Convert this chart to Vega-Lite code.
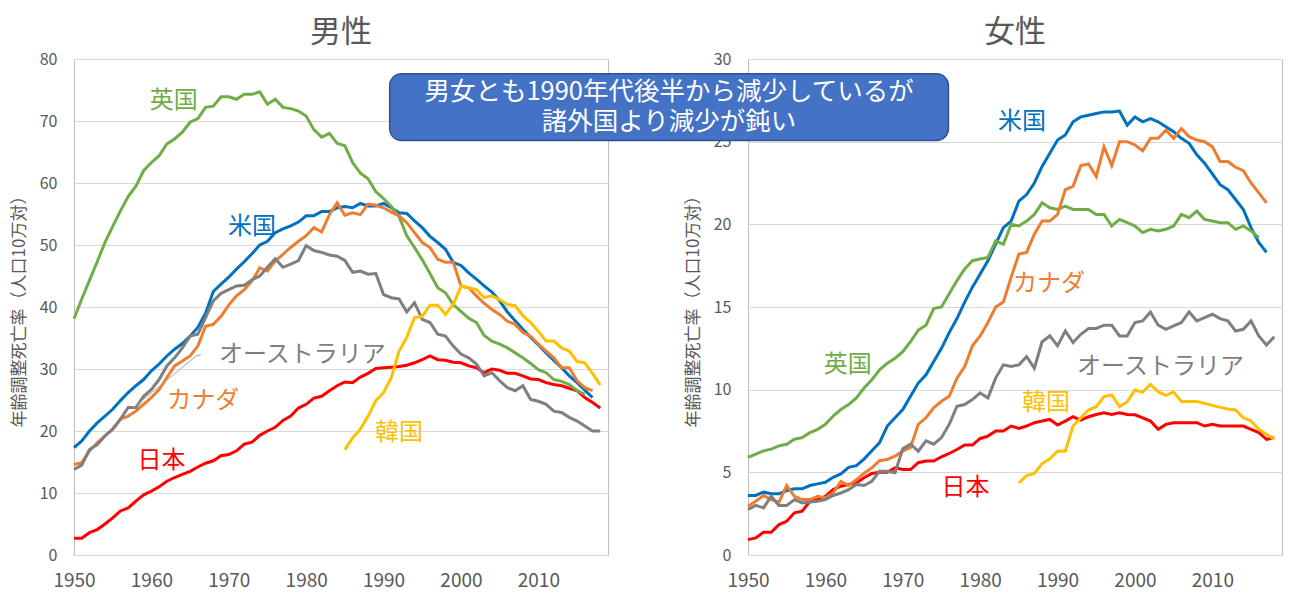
{
  "$schema": "https://vega.github.io/schema/vega-lite/v6.json",
  "padding": {"left": 9, "top": 16, "right": 5, "bottom": 5},
  "background": "white",
  "bounds": "flush",
  "spacing": 140,
  "config": {
    "font": "Noto Sans CJK JP",
    "view": {"stroke": "#BFBFBF", "strokeWidth": 1},
    "axis": {"labelFont": "Noto Sans CJK JP", "titleFont": "Noto Sans CJK JP", "labelColor": "#595959", "titleColor": "#595959", "domain": false, "ticks": false},
    "title": {"font": "Noto Sans CJK JP", "fontSize": 31, "fontWeight": "normal", "color": "#595959", "offset": 2}
  },
  "datasets": {
    "male": [
      {"yr":1950,"英国":38.1,"米国":17.3,"カナダ":14.6,"オーストラリア":13.8,"日本":2.7},
      {"yr":1951,"英国":41.3,"米国":18.4,"カナダ":14.9,"オーストラリア":14.5,"日本":2.7},
      {"yr":1952,"英国":44.3,"米国":20.0,"カナダ":16.8,"オーストラリア":17.0,"日本":3.6},
      {"yr":1953,"英国":47.3,"米国":21.3,"カナダ":18.1,"オーストラリア":17.8,"日本":4.1},
      {"yr":1954,"英国":50.4,"米国":22.4,"カナダ":19.2,"オーストラリア":19.2,"日本":5.0},
      {"yr":1955,"英国":53.0,"米国":23.5,"カナダ":20.3,"オーストラリア":20.3,"日本":6.0},
      {"yr":1956,"英国":55.5,"米国":24.9,"カナダ":21.9,"オーストラリア":21.9,"日本":7.1},
      {"yr":1957,"英国":57.8,"米国":26.2,"カナダ":22.4,"オーストラリア":23.8,"日本":7.6},
      {"yr":1958,"英国":59.5,"米国":27.3,"カナダ":23.2,"オーストラリア":23.8,"日本":8.7},
      {"yr":1959,"英国":62.0,"米国":28.3,"カナダ":24.3,"オーストラリア":25.6,"日本":9.7},
      {"yr":1960,"英国":63.3,"米国":29.7,"カナダ":25.4,"オーストラリア":26.7,"日本":10.3},
      {"yr":1961,"英国":64.4,"米国":30.8,"カナダ":26.7,"オーストラリア":28.3,"日本":11.0},
      {"yr":1962,"英国":66.3,"米国":32.1,"カナダ":28.6,"オーストラリア":30.5,"日本":11.9},
      {"yr":1963,"英国":67.1,"米国":33.2,"カナダ":30.5,"オーストラリア":31.8,"日本":12.5},
      {"yr":1964,"英国":68.2,"米国":34.1,"カナダ":31.3,"オーストラリア":33.4,"日本":13.0},
      {"yr":1965,"英国":69.8,"米国":35.3,"カナダ":32.1,"オーストラリア":35.3,"日本":13.5},
      {"yr":1966,"英国":70.4,"米国":36.7,"カナダ":33.7,"オーストラリア":35.6,"日本":14.2},
      {"yr":1967,"英国":72.2,"米国":39.0,"カナダ":36.9,"オーストラリア":38.3,"日本":14.8},
      {"yr":1968,"英国":72.4,"米国":42.5,"カナダ":37.2,"オーストラリア":41.0,"日本":15.2},
      {"yr":1969,"英国":73.9,"米国":43.7,"カナダ":38.5,"オーストラリア":42.2,"日本":16.0},
      {"yr":1970,"英国":73.9,"米国":44.8,"カナダ":40.3,"オーストラリア":42.8,"日本":16.2},
      {"yr":1971,"英国":73.5,"米国":46.1,"カナダ":41.8,"オーストラリア":43.4,"日本":16.8},
      {"yr":1972,"英国":74.3,"米国":47.3,"カナダ":42.8,"オーストラリア":43.5,"日本":17.9},
      {"yr":1973,"英国":74.3,"米国":48.6,"カナダ":44.2,"オーストラリア":44.4,"日本":18.2},
      {"yr":1974,"英国":74.7,"米国":50.0,"カナダ":46.3,"オーストラリア":45.0,"日本":19.3},
      {"yr":1975,"英国":72.7,"米国":50.6,"カナダ":45.8,"オーストラリア":46.4,"日本":20.0},
      {"yr":1976,"英国":73.5,"米国":52.0,"カナダ":47.4,"オーストラリア":47.8,"日本":20.6},
      {"yr":1977,"英国":72.2,"米国":52.6,"カナダ":48.5,"オーストラリア":46.4,"日本":21.7},
      {"yr":1978,"英国":72.0,"米国":53.1,"カナダ":49.6,"オーストラリア":46.9,"日本":22.4},
      {"yr":1979,"英国":71.6,"米国":53.7,"カナダ":50.6,"オーストラリア":47.5,"日本":23.7},
      {"yr":1980,"英国":70.8,"米国":54.7,"カナダ":51.5,"オーストラリア":49.9,"日本":24.3},
      {"yr":1981,"英国":68.6,"米国":54.7,"カナダ":52.8,"オーストラリア":49.1,"日本":25.3},
      {"yr":1982,"英国":67.4,"米国":55.4,"カナダ":52.1,"オーストラリア":48.8,"日本":25.6},
      {"yr":1983,"英国":68.0,"米国":55.4,"カナダ":54.9,"オーストラリア":48.4,"日本":26.5},
      {"yr":1984,"英国":66.4,"米国":56.0,"カナダ":56.8,"オーストラリア":48.2,"日本":27.3},
      {"yr":1985,"英国":66.0,"米国":56.2,"カナダ":54.8,"オーストラリア":47.5,"日本":27.9,"韓国":17.0},
      {"yr":1986,"英国":63.3,"米国":56.0,"カナダ":55.2,"オーストラリア":45.6,"日本":27.8,"韓国":18.9},
      {"yr":1987,"英国":61.6,"米国":56.7,"カナダ":54.9,"オーストラリア":45.8,"日本":28.7,"韓国":20.3},
      {"yr":1988,"英国":60.7,"米国":56.3,"カナダ":56.6,"オーストラリア":45.3,"日本":29.3,"韓国":22.4},
      {"yr":1989,"英国":58.6,"米国":56.3,"カナダ":56.4,"オーストラリア":45.4,"日本":30.1,"韓国":24.9},
      {"yr":1990,"英国":57.5,"米国":56.7,"カナダ":56.0,"オーストラリア":42.0,"日本":30.2,"韓国":26.2},
      {"yr":1991,"英国":56.2,"米国":56.0,"カナダ":55.3,"オーストラリア":41.5,"日本":30.3,"韓国":28.6},
      {"yr":1992,"英国":54.6,"米国":55.2,"カナダ":54.7,"オーストラリア":41.3,"日本":30.4,"韓国":32.9},
      {"yr":1993,"英国":51.5,"米国":55.1,"カナダ":53.6,"オーストラリア":39.2,"日本":30.6,"韓国":35.1},
      {"yr":1994,"英国":49.6,"米国":53.9,"カナダ":52.0,"オーストラリア":40.7,"日本":31.0,"韓国":38.3},
      {"yr":1995,"英国":47.6,"米国":52.8,"カナダ":50.4,"オーストラリア":38.0,"日本":31.5,"韓国":38.5},
      {"yr":1996,"英国":45.4,"米国":51.4,"カナダ":49.6,"オーストラリア":37.5,"日本":32.1,"韓国":40.3},
      {"yr":1997,"英国":43.1,"米国":50.4,"カナダ":47.7,"オーストラリア":35.6,"日本":31.5,"韓国":40.3},
      {"yr":1998,"英国":42.3,"米国":49.3,"カナダ":47.2,"オーストラリア":35.3,"日本":31.4,"韓国":38.8},
      {"yr":1999,"英国":40.4,"米国":47.2,"カナダ":47.2,"オーストラリア":33.7,"日本":31.1,"韓国":40.4},
      {"yr":2000,"英国":39.3,"米国":46.7,"カナダ":43.4,"オーストラリア":32.4,"日本":31.0,"韓国":43.3},
      {"yr":2001,"英国":38.2,"米国":45.5,"カナダ":43.1,"オーストラリア":31.8,"日本":30.5,"韓国":43.1},
      {"yr":2002,"英国":37.5,"米国":44.5,"カナダ":41.8,"オーストラリア":30.8,"日本":30.2,"韓国":42.8},
      {"yr":2003,"英国":35.4,"米国":43.4,"カナダ":40.6,"オーストラリア":28.9,"日本":29.4,"韓国":41.5},
      {"yr":2004,"英国":34.5,"米国":42.4,"カナダ":39.6,"オーストラリア":29.4,"日本":30.0,"韓国":41.8},
      {"yr":2005,"英国":34.0,"米国":41.0,"カナダ":38.8,"オーストラリア":28.1,"日本":29.8,"韓国":41.2},
      {"yr":2006,"英国":33.4,"米国":39.2,"カナダ":37.7,"オーストラリア":27.0,"日本":29.3,"韓国":40.4},
      {"yr":2007,"英国":32.6,"米国":37.8,"カナダ":37.2,"オーストラリア":26.5,"日本":29.3,"韓国":40.2},
      {"yr":2008,"英国":31.8,"米国":36.4,"カナダ":35.9,"オーストラリア":27.3,"日本":28.9,"韓国":38.6},
      {"yr":2009,"英国":30.9,"米国":35.1,"カナダ":35.3,"オーストラリア":25.1,"日本":28.4,"韓国":37.5},
      {"yr":2010,"英国":29.9,"米国":33.9,"カナダ":34.0,"オーストラリア":24.8,"日本":28.3,"韓国":36.1},
      {"yr":2011,"英国":29.4,"米国":32.6,"カナダ":32.9,"オーストラリア":24.3,"日本":27.8,"韓国":34.5},
      {"yr":2012,"英国":28.3,"米国":31.4,"カナダ":31.8,"オーストラリア":23.2,"日本":27.5,"韓国":34.5},
      {"yr":2013,"英国":28.0,"米国":30.2,"カナダ":30.2,"オーストラリア":23.0,"日本":27.3,"韓国":33.4},
      {"yr":2014,"英国":27.5,"米国":28.9,"カナダ":30.2,"オーストラリア":22.2,"日本":26.9,"韓国":32.9},
      {"yr":2015,"英国":26.5,"米国":27.8,"カナダ":28.1,"オーストラリア":21.6,"日本":26.5,"韓国":31.2},
      {"yr":2016,"英国":25.9,"米国":26.6,"カナダ":27.0,"オーストラリア":20.8,"日本":25.4,"韓国":31.0},
      {"yr":2017,"米国":25.4,"カナダ":26.5,"オーストラリア":20.0,"日本":24.6,"韓国":29.3},
      {"yr":2018,"オーストラリア":20.0,"日本":23.7,"韓国":27.4}
    ],
    "female": [
      {"yr":1950,"英国":5.9,"米国":3.6,"カナダ":2.95,"オーストラリア":2.75,"日本":0.93},
      {"yr":1951,"英国":6.1,"米国":3.6,"カナダ":3.25,"オーストラリア":3.0,"日本":1.03},
      {"yr":1952,"英国":6.3,"米国":3.8,"カナダ":3.6,"オーストラリア":2.85,"日本":1.37},
      {"yr":1953,"英国":6.4,"米国":3.7,"カナダ":3.35,"オーストラリア":3.55,"日本":1.37},
      {"yr":1954,"英国":6.6,"米国":3.7,"カナダ":3.2,"オーストラリア":3.0,"日本":1.84},
      {"yr":1955,"英国":6.7,"米国":3.9,"カナダ":4.2,"オーストラリア":3.0,"日本":2.04},
      {"yr":1956,"英国":7.0,"米国":4.0,"カナダ":3.55,"オーストラリア":3.35,"日本":2.55},
      {"yr":1957,"英国":7.1,"米国":4.0,"カナダ":3.35,"オーストラリア":3.15,"日本":2.65},
      {"yr":1958,"英国":7.4,"米国":4.2,"カナダ":3.35,"オーストラリア":3.2,"日本":3.25},
      {"yr":1959,"英国":7.6,"米国":4.3,"カナダ":3.55,"オーストラリア":3.25,"日本":3.35},
      {"yr":1960,"英国":7.9,"米国":4.4,"カナダ":3.45,"オーストラリア":3.35,"日本":3.55},
      {"yr":1961,"英国":8.4,"米国":4.7,"カナダ":3.75,"オーストラリア":3.6,"日本":3.96},
      {"yr":1962,"英国":8.8,"米国":4.9,"カナダ":4.45,"オーストラリア":3.75,"日本":4.16},
      {"yr":1963,"英国":9.1,"米国":5.3,"カナダ":4.2,"オーストラリア":3.95,"日本":4.26},
      {"yr":1964,"英国":9.5,"米国":5.4,"カナダ":4.55,"オーストラリア":4.26,"日本":4.36},
      {"yr":1965,"英国":10.1,"米国":5.8,"カナダ":4.95,"オーストラリア":4.2,"日本":4.67},
      {"yr":1966,"英国":10.6,"米国":6.3,"カナダ":5.27,"オーストラリア":4.46,"日本":4.93},
      {"yr":1967,"英国":11.2,"米国":6.8,"カナダ":5.7,"オーストラリア":5.07,"日本":5.0},
      {"yr":1968,"英国":11.6,"米国":7.8,"カナダ":5.78,"オーストラリア":5.07,"日本":5.0},
      {"yr":1969,"英国":11.9,"米国":8.3,"カナダ":5.98,"オーストラリア":4.97,"日本":5.27},
      {"yr":1970,"英国":12.3,"米国":8.8,"カナダ":6.28,"オーストラリア":6.42,"日本":5.17},
      {"yr":1971,"英国":12.9,"米国":9.6,"カナダ":6.5,"オーストラリア":6.7,"日本":5.17},
      {"yr":1972,"英国":13.6,"米国":10.4,"カナダ":7.9,"オーストラリア":6.28,"日本":5.58},
      {"yr":1973,"英国":13.9,"米国":10.9,"カナダ":8.3,"オーストラリア":6.9,"日本":5.68},
      {"yr":1974,"英国":14.9,"米国":11.7,"カナダ":8.9,"オーストラリア":6.7,"日本":5.68},
      {"yr":1975,"英国":15.0,"米国":12.5,"カナダ":9.3,"オーストラリア":7.1,"日本":5.94},
      {"yr":1976,"英国":15.8,"米国":13.45,"カナダ":9.6,"オーストラリア":7.9,"日本":6.14},
      {"yr":1977,"英国":16.6,"米国":14.3,"カナダ":10.7,"オーストラリア":9.0,"日本":6.38},
      {"yr":1978,"英国":17.3,"米国":15.3,"カナダ":11.4,"オーストラリア":9.1,"日本":6.65},
      {"yr":1979,"英国":17.8,"米国":16.2,"カナダ":12.65,"オーストラリア":9.4,"日本":6.65},
      {"yr":1980,"英国":17.9,"米国":17.0,"カナダ":13.25,"オーストラリア":9.8,"日本":7.05},
      {"yr":1981,"英国":18.0,"米国":17.8,"カナダ":14.06,"オーストラリア":9.5,"日本":7.19},
      {"yr":1982,"英国":19.0,"米国":18.8,"カナダ":15.0,"オーストラリア":10.7,"日本":7.5},
      {"yr":1983,"英国":18.8,"米国":19.8,"カナダ":15.3,"オーストラリア":11.5,"日本":7.5},
      {"yr":1984,"英国":20.0,"米国":20.2,"カナダ":16.8,"オーストラリア":11.4,"日本":7.8},
      {"yr":1985,"英国":19.9,"米国":21.4,"カナダ":18.2,"オーストラリア":11.5,"日本":7.66,"韓国":4.36},
      {"yr":1986,"英国":20.2,"米国":21.8,"カナダ":18.3,"オーストラリア":12.0,"日本":7.8,"韓国":4.8},
      {"yr":1987,"英国":20.6,"米国":22.5,"カナダ":19.4,"オーストラリア":11.3,"日本":8.0,"韓国":4.93},
      {"yr":1988,"英国":21.3,"米国":23.5,"カナダ":20.2,"オーストラリア":12.9,"日本":8.1,"韓国":5.53},
      {"yr":1989,"英国":21.0,"米国":24.3,"カナダ":20.2,"オーストラリア":13.25,"日本":8.2,"韓国":5.82},
      {"yr":1990,"英国":20.9,"米国":25.1,"カナダ":20.6,"オーストラリア":12.65,"日本":7.86,"韓国":6.28},
      {"yr":1991,"英国":21.1,"米国":25.4,"カナダ":22.1,"オーストラリア":13.55,"日本":8.1,"韓国":6.28},
      {"yr":1992,"英国":20.9,"米国":26.2,"カナダ":22.3,"オーストラリア":12.85,"日本":8.36,"韓国":7.8},
      {"yr":1993,"英国":20.9,"米国":26.5,"カナダ":23.55,"オーストラリア":13.35,"日本":8.16,"韓国":8.3},
      {"yr":1994,"英国":20.9,"米国":26.6,"カナダ":23.65,"オーストラリア":13.7,"日本":8.36,"韓国":8.77},
      {"yr":1995,"英国":20.6,"米国":26.7,"カナダ":22.9,"オーストラリア":13.7,"日本":8.5,"韓国":8.97},
      {"yr":1996,"英国":20.6,"米国":26.8,"カナダ":24.7,"オーストラリア":13.9,"日本":8.6,"韓国":9.58},
      {"yr":1997,"英国":19.9,"米国":26.8,"カナダ":23.55,"オーストラリア":13.9,"日本":8.5,"韓国":9.68},
      {"yr":1998,"英国":20.3,"米国":26.85,"カナダ":25.0,"オーストラリア":13.25,"日本":8.6,"韓国":8.97},
      {"yr":1999,"英国":20.1,"米国":26.0,"カナダ":25.0,"オーストラリア":13.25,"日本":8.5,"韓国":9.27},
      {"yr":2000,"英国":19.9,"米国":26.5,"カナダ":24.8,"オーストラリア":14.06,"日本":8.48,"韓国":9.98},
      {"yr":2001,"英国":19.5,"米国":26.2,"カナダ":24.45,"オーストラリア":14.16,"日本":8.3,"韓国":9.86},
      {"yr":2002,"英国":19.7,"米国":26.4,"カナダ":25.2,"オーストラリア":14.7,"日本":8.1,"韓国":10.32},
      {"yr":2003,"英国":19.6,"米国":26.2,"カナダ":25.2,"オーストラリア":13.9,"日本":7.6,"韓国":9.86},
      {"yr":2004,"英国":19.7,"米国":25.9,"カナダ":25.7,"オーストラリア":13.65,"日本":7.9,"韓国":9.66},
      {"yr":2005,"英国":19.9,"米国":25.6,"カナダ":25.2,"オーストラリア":13.86,"日本":8.0,"韓国":9.86},
      {"yr":2006,"英国":20.6,"米国":25.2,"カナダ":25.8,"オーストラリア":14.06,"日本":8.0,"韓国":9.29},
      {"yr":2007,"英国":20.4,"米国":24.9,"カナダ":25.3,"オーストラリア":14.7,"日本":8.0,"韓国":9.29},
      {"yr":2008,"英国":20.8,"米国":24.2,"カナダ":25.1,"オーストラリア":14.16,"日本":8.0,"韓国":9.29},
      {"yr":2009,"英国":20.3,"米国":23.7,"カナダ":25.0,"オーストラリア":14.36,"日本":7.8,"韓国":9.17},
      {"yr":2010,"英国":20.2,"米国":23.05,"カナダ":24.7,"オーストラリア":14.56,"日本":7.9,"韓国":9.05},
      {"yr":2011,"英国":20.1,"米国":22.4,"カナダ":23.8,"オーストラリア":14.3,"日本":7.8,"韓国":8.93},
      {"yr":2012,"英国":20.1,"米国":22.1,"カナダ":23.8,"オーストラリア":14.16,"日本":7.8,"韓国":8.83},
      {"yr":2013,"英国":19.7,"米国":21.5,"カナダ":23.45,"オーストラリア":13.55,"日本":7.8,"韓国":8.77},
      {"yr":2014,"英国":19.9,"米国":20.9,"カナダ":23.25,"オーストラリア":13.65,"日本":7.8,"韓国":8.3},
      {"yr":2015,"英国":19.6,"米国":19.8,"カナダ":22.5,"オーストラリア":14.16,"日本":7.6,"韓国":8.1},
      {"yr":2016,"英国":19.2,"米国":18.9,"カナダ":21.9,"オーストラリア":13.25,"日本":7.4,"韓国":7.6},
      {"yr":2017,"米国":18.3,"カナダ":21.3,"オーストラリア":12.7,"日本":7.0,"韓国":7.3},
      {"yr":2018,"オーストラリア":13.2,"日本":7.1,"韓国":7.0}
    ],
    "maleLabels": [
      {"c":"英国","yr":1962.9,"v":73.2},
      {"c":"米国","yr":1973.0,"v":52.95},
      {"c":"オーストラリア","yr":1979.5,"v":32.3},
      {"c":"カナダ","yr":1966.7,"v":24.8},
      {"c":"日本","yr":1961.3,"v":15.2},
      {"c":"韓国","yr":1992.0,"v":19.7}
    ],
    "femaleLabels": [
      {"c":"米国","yr":1985.4,"v":26.2},
      {"c":"カナダ","yr":1988.9,"v":16.4},
      {"c":"英国","yr":1962.9,"v":11.5},
      {"c":"オーストラリア","yr":2003.3,"v":11.4},
      {"c":"韓国","yr":1988.5,"v":9.2},
      {"c":"日本","yr":1978.1,"v":4.06}
    ],
    "leader": [
      {"yr":1966.4,"v":32.3},
      {"yr":1965.8,"v":32.1},
      {"yr":1957.6,"v":23.7}
    ],
    "banner": [
      {"yr":1903.7,"yr2":1975.9,"v":29.11,"v2":25.07}
    ],
    "bannerText": [
      {"yr":1939.8,"v":28.0,"t":"男女とも1990年代後半から減少しているが"},
      {"yr":1939.8,"v":26.2,"t":"諸外国より減少が鈍い"}
    ]
  },
  "hconcat": [
    {
      "width": 534,
      "height": 496,
      "title": {"text": "男性"},
      "layer": [
        {
          "data": {"name": "male"},
          "transform": [
            {"fold": ["日本","米国","英国","カナダ","オーストラリア","韓国"], "as": ["c","v"]},
            {"filter": "isValid(datum.v) && isFinite(datum.v)"}
          ],
          "mark": {"type": "line", "strokeWidth": 3},
          "encoding": {
            "x": {"field": "yr", "type": "quantitative", "scale": {"domain": [1950, 2019], "nice": false, "zero": false},
                  "axis": {"values": [1950,1960,1970,1980,1990,2000,2010], "format": "d", "labelFontSize": 19, "labelPadding": 16, "labelFlush": false, "grid": false, "title": null}},
            "y": {"field": "v", "type": "quantitative", "scale": {"domain": [0, 80], "nice": false},
                  "axis": {"values": [0,10,20,30,40,50,60,70,80], "labelFontSize": 16, "labelPadding": 17, "grid": true, "gridColor": "#D9D9D9", "title": "年齢調整死亡率（人口10万対）", "titleFontSize": 17, "titleFontWeight": "normal", "titlePadding": 11}},
            "color": {"field": "c", "type": "nominal",
                      "scale": {"domain": ["日本","米国","英国","カナダ","オーストラリア","韓国"], "range": ["#FF0000","#0070C0","#70AD47","#ED7D31","#7F7F7F","#FFC000"]},
                      "legend": null}
          }
        },
        {
          "data": {"name": "leader"},
          "mark": {"type": "line", "color": "#A6A6A6", "strokeWidth": 1},
          "encoding": {
            "x": {"field": "yr", "type": "quantitative"},
            "y": {"field": "v", "type": "quantitative"},
            "order": {"field": "yr", "type": "quantitative", "sort": "descending"}
          }
        },
        {
          "data": {"name": "maleLabels"},
          "mark": {"type": "text", "fontSize": 24, "align": "center", "baseline": "middle"},
          "encoding": {
            "x": {"field": "yr", "type": "quantitative"},
            "y": {"field": "v", "type": "quantitative"},
            "text": {"field": "c"},
            "color": {"field": "c", "type": "nominal", "legend": null}
          }
        }
      ]
    },
    {
      "width": 534,
      "height": 496,
      "title": {"text": "女性"},
      "layer": [
        {
          "data": {"name": "female"},
          "transform": [
            {"fold": ["日本","米国","英国","カナダ","オーストラリア","韓国"], "as": ["c","v"]},
            {"filter": "isValid(datum.v) && isFinite(datum.v)"}
          ],
          "mark": {"type": "line", "strokeWidth": 3},
          "encoding": {
            "x": {"field": "yr", "type": "quantitative", "scale": {"domain": [1950, 2019], "nice": false, "zero": false},
                  "axis": {"values": [1950,1960,1970,1980,1990,2000,2010], "format": "d", "labelFontSize": 19, "labelPadding": 16, "labelFlush": false, "grid": false, "title": null}},
            "y": {"field": "v", "type": "quantitative", "scale": {"domain": [0, 30], "nice": false},
                  "axis": {"values": [0,5,10,15,20,25,30], "labelFontSize": 16, "labelPadding": 17, "grid": true, "gridColor": "#D9D9D9", "title": "年齢調整死亡率（人口10万対）", "titleFontSize": 17, "titleFontWeight": "normal", "titlePadding": 11}},
            "color": {"field": "c", "type": "nominal",
                      "scale": {"domain": ["日本","米国","英国","カナダ","オーストラリア","韓国"], "range": ["#FF0000","#0070C0","#70AD47","#ED7D31","#7F7F7F","#FFC000"]},
                      "legend": null}
          }
        },
        {
          "data": {"name": "femaleLabels"},
          "mark": {"type": "text", "fontSize": 24, "align": "center", "baseline": "middle"},
          "encoding": {
            "x": {"field": "yr", "type": "quantitative"},
            "y": {"field": "v", "type": "quantitative"},
            "text": {"field": "c"},
            "color": {"field": "c", "type": "nominal", "legend": null}
          }
        },
        {
          "data": {"name": "banner"},
          "mark": {"type": "rect", "fill": "#4472C4", "stroke": "#2F528F", "strokeWidth": 1.5, "cornerRadius": 12, "clip": false},
          "encoding": {
            "x": {"field": "yr", "type": "quantitative"},
            "x2": {"field": "yr2"},
            "y": {"field": "v", "type": "quantitative"},
            "y2": {"field": "v2"}
          }
        },
        {
          "data": {"name": "bannerText"},
          "mark": {"type": "text", "fontSize": 25.5, "align": "center", "baseline": "middle", "fill": "white", "clip": false},
          "encoding": {
            "x": {"field": "yr", "type": "quantitative"},
            "y": {"field": "v", "type": "quantitative"},
            "text": {"field": "t"}
          }
        }
      ]
    }
  ]
}
